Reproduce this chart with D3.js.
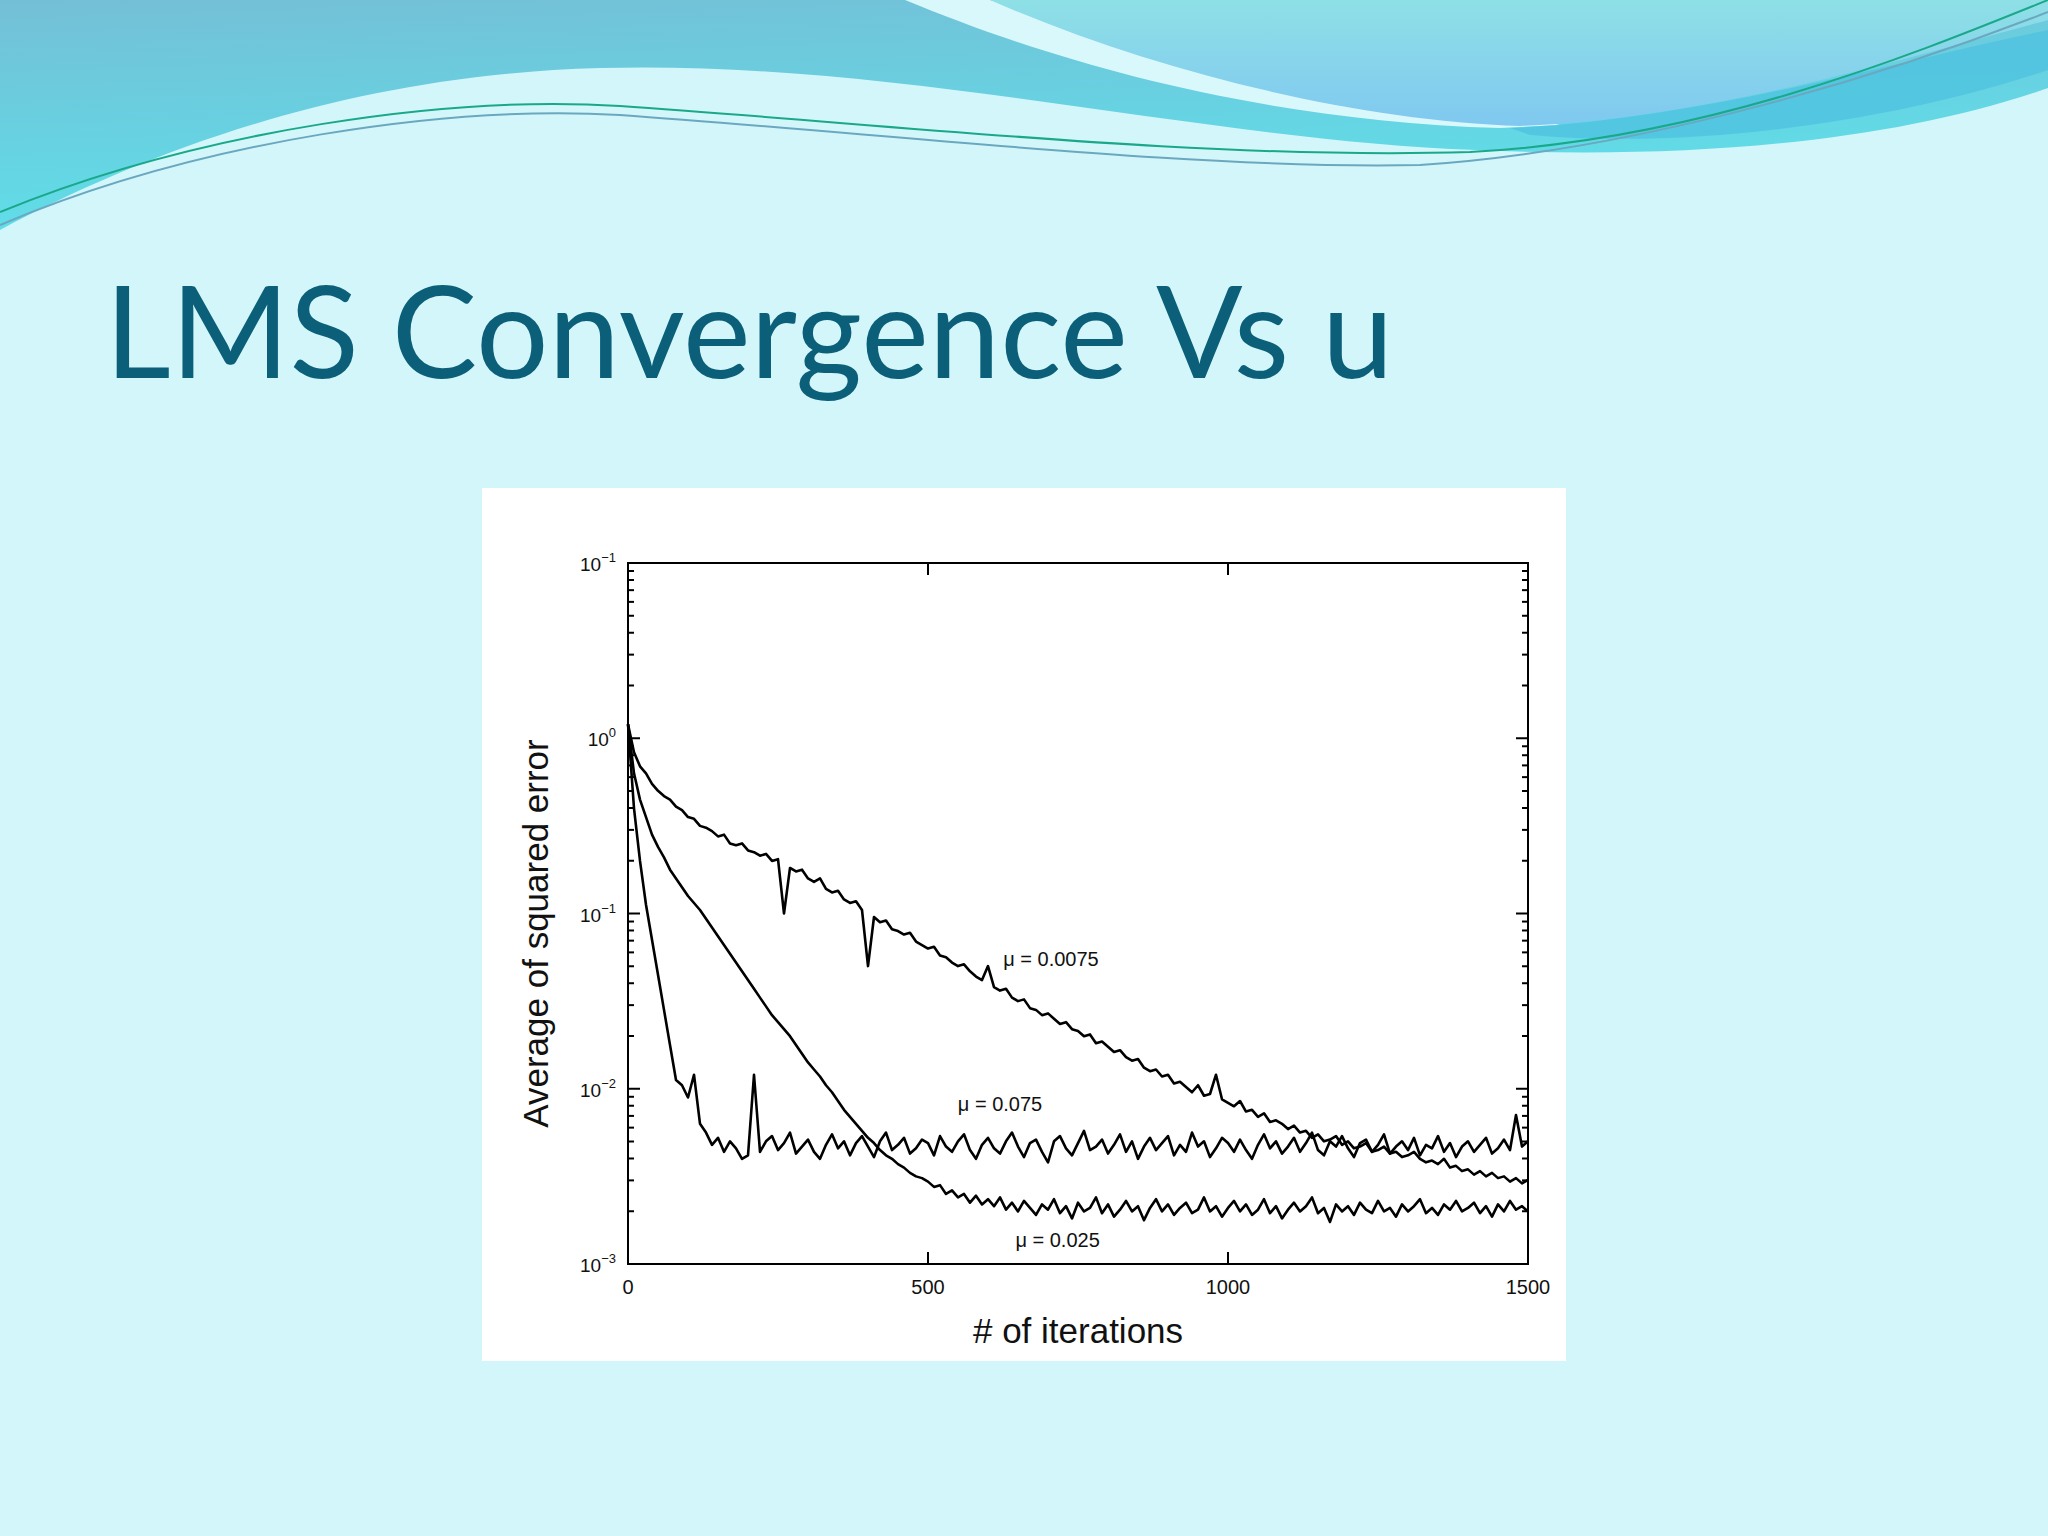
<!DOCTYPE html>
<html><head><meta charset="utf-8">
<script src="https://cdn.jsdelivr.net/npm/d3@7"></script>
<style>body{margin:0;background:#d3f6fa;}svg{display:block}</style>
</head><body>
<script>
const iterStep = 10;
const seriesNames = ["μ = 0.0075", "μ = 0.075", "μ = 0.025"];
const xTicks = [0, 500, 1000, 1500];
const yTickExps = [-3, -2, -1, 0, -1];   // printed exponents (as in source image, bottom to top)
const yTickVals = [0.001, 0.01, 0.1, 1, 10];
// log10 of average squared error, every 10 iterations
const logSlow = [0.08,-0.08,-0.16,-0.2,-0.26,-0.3,-0.33,-0.35,-0.39,-0.41,
-0.45,-0.46,-0.5,-0.51,-0.53,-0.56,-0.55,-0.6,-0.61,-0.6,
-0.64,-0.65,-0.67,-0.66,-0.7,-0.69,-1.0,-0.74,-0.76,-0.75,
-0.8,-0.82,-0.8,-0.86,-0.88,-0.87,-0.92,-0.94,-0.93,-0.98,
-1.3,-1.02,-1.05,-1.04,-1.09,-1.1,-1.12,-1.11,-1.16,-1.18,
-1.2,-1.19,-1.24,-1.25,-1.28,-1.3,-1.29,-1.33,-1.36,-1.38,
-1.3,-1.42,-1.44,-1.43,-1.48,-1.5,-1.49,-1.54,-1.55,-1.58,
-1.57,-1.6,-1.63,-1.62,-1.66,-1.67,-1.7,-1.69,-1.74,-1.73,
-1.76,-1.79,-1.78,-1.82,-1.84,-1.83,-1.88,-1.9,-1.89,-1.93,
-1.92,-1.97,-1.96,-1.99,-2.02,-1.98,-2.04,-2.03,-1.92,-2.06,
-2.08,-2.1,-2.07,-2.13,-2.12,-2.16,-2.14,-2.19,-2.18,-2.2,
-2.23,-2.21,-2.25,-2.24,-2.28,-2.26,-2.3,-2.29,-2.27,-2.32,
-2.3,-2.34,-2.33,-2.31,-2.36,-2.35,-2.33,-2.37,-2.36,-2.39,
-2.38,-2.36,-2.4,-2.42,-2.41,-2.43,-2.4,-2.45,-2.44,-2.47,
-2.46,-2.49,-2.47,-2.5,-2.48,-2.51,-2.5,-2.53,-2.51,-2.54,
-2.52];
const logFast = [0.08,-0.4,-0.7,-0.95,-1.15,-1.35,-1.55,-1.75,-1.95,-1.98,
-2.05,-1.92,-2.2,-2.25,-2.32,-2.28,-2.36,-2.3,-2.34,-2.4,
-2.38,-1.92,-2.36,-2.3,-2.27,-2.35,-2.31,-2.25,-2.37,-2.33,
-2.29,-2.36,-2.4,-2.32,-2.26,-2.34,-2.3,-2.38,-2.31,-2.27,
-2.33,-2.39,-2.3,-2.25,-2.35,-2.32,-2.28,-2.37,-2.34,-2.29,
-2.31,-2.38,-2.27,-2.33,-2.36,-2.3,-2.26,-2.35,-2.4,-2.32,
-2.28,-2.34,-2.37,-2.3,-2.25,-2.33,-2.39,-2.31,-2.29,-2.36,
-2.42,-2.3,-2.27,-2.34,-2.38,-2.31,-2.24,-2.35,-2.33,-2.29,
-2.37,-2.32,-2.26,-2.36,-2.3,-2.4,-2.33,-2.28,-2.35,-2.31,
-2.27,-2.38,-2.32,-2.36,-2.25,-2.33,-2.3,-2.39,-2.34,-2.28,
-2.31,-2.36,-2.29,-2.35,-2.4,-2.32,-2.26,-2.34,-2.3,-2.37,
-2.33,-2.28,-2.36,-2.31,-2.25,-2.35,-2.38,-2.3,-2.33,-2.27,
-2.34,-2.39,-2.31,-2.29,-2.36,-2.32,-2.26,-2.37,-2.33,-2.3,
-2.35,-2.28,-2.38,-2.32,-2.34,-2.27,-2.36,-2.31,-2.39,-2.33,
-2.3,-2.36,-2.32,-2.28,-2.37,-2.34,-2.29,-2.35,-2.15,-2.33,
-2.3];
const logMid = [0.08,-0.2,-0.35,-0.45,-0.55,-0.62,-0.68,-0.75,-0.8,-0.85,
-0.9,-0.94,-0.98,-1.03,-1.08,-1.13,-1.18,-1.23,-1.28,-1.33,
-1.38,-1.43,-1.48,-1.53,-1.58,-1.62,-1.66,-1.7,-1.75,-1.8,
-1.85,-1.89,-1.93,-1.98,-2.02,-2.07,-2.12,-2.16,-2.2,-2.24,
-2.28,-2.31,-2.35,-2.38,-2.4,-2.43,-2.45,-2.48,-2.5,-2.51,
-2.53,-2.56,-2.55,-2.6,-2.58,-2.62,-2.6,-2.65,-2.61,-2.66,
-2.63,-2.67,-2.62,-2.69,-2.65,-2.7,-2.64,-2.68,-2.72,-2.66,
-2.69,-2.63,-2.71,-2.67,-2.74,-2.65,-2.7,-2.68,-2.62,-2.71,
-2.66,-2.73,-2.69,-2.64,-2.7,-2.67,-2.75,-2.68,-2.63,-2.7,
-2.66,-2.72,-2.68,-2.65,-2.71,-2.69,-2.62,-2.7,-2.67,-2.73,
-2.68,-2.64,-2.7,-2.66,-2.72,-2.69,-2.63,-2.71,-2.67,-2.74,
-2.69,-2.65,-2.7,-2.67,-2.62,-2.71,-2.68,-2.76,-2.66,-2.7,
-2.67,-2.72,-2.65,-2.69,-2.71,-2.64,-2.7,-2.68,-2.73,-2.66,
-2.7,-2.67,-2.63,-2.71,-2.68,-2.72,-2.66,-2.69,-2.64,-2.7,
-2.68,-2.65,-2.71,-2.67,-2.73,-2.66,-2.7,-2.64,-2.69,-2.67,
-2.7];
const labelPos = [[705, 0.05], [620, 0.0075], [716, 0.00125]];

const W = 2048, H = 1536;
const svg = d3.select("body").append("svg").attr("width", W).attr("height", H);
const defs = svg.append("defs");
const g1 = defs.append("linearGradient").attr("id","gTop").attr("x1",0).attr("y1",0).attr("x2",0.3).attr("y2",1);
g1.append("stop").attr("offset",0).attr("stop-color","#74bfd6");
g1.append("stop").attr("offset",1).attr("stop-color","#5ee0ea");
const g2 = defs.append("linearGradient").attr("id","gR").attr("x1",0).attr("y1",0).attr("x2",0).attr("y2",1);
g2.append("stop").attr("offset",0).attr("stop-color","#8ee0e6");
g2.append("stop").attr("offset",1).attr("stop-color","#80c8f0");

svg.append("rect").attr("width",W).attr("height",H).attr("fill","#d3f6fa");
svg.append("path").attr("fill","url(#gTop)")
  .attr("d","M0,0 L2048,0 L2048,88 C1900,140 1700,160 1476,150 C1200,140 900,60 600,68 C350,75 150,150 0,230 Z");
svg.append("path").attr("fill","#d9f8fb")
  .attr("d","M905,0 C1050,60 1250,120 1500,128 L1560,125 C1500,110 1200,60 990,0 Z");
svg.append("path").attr("fill","url(#gR)")
  .attr("d","M990,0 C1150,70 1350,120 1520,126 C1700,120 1900,60 2048,20 L2048,0 Z");
svg.append("path").attr("fill","#4cc0e0").attr("opacity",0.7)
  .attr("d","M1510,128 C1700,120 1900,60 2048,30 L2048,70 C1900,120 1700,150 1530,135 Z");
svg.append("path").attr("fill","none").attr("stroke","#1aa88a").attr("stroke-width",2)
  .attr("d","M0,212 C200,130 450,95 620,106 C900,125 1200,160 1470,152 C1700,140 1900,60 2048,0");
svg.append("path").attr("fill","none").attr("stroke","#6aa8c0").attr("stroke-width",2)
  .attr("d","M0,225 C200,140 450,105 620,115 C900,135 1200,170 1420,165 C1650,150 1900,70 2048,12");

svg.append("text").attr("x",105).attr("y",378).attr("font-family","Lato, 'Open Sans', sans-serif")
  .attr("font-size",128).attr("fill","#0b5f79").text("LMS Convergence Vs u");

svg.append("rect").attr("x",482).attr("y",488).attr("width",1084).attr("height",873).attr("fill","#ffffff");

const L = 628, R = 1528, T = 563, B = 1264;
const x = d3.scaleLinear().domain([0,1500]).range([L,R]);
const y = d3.scaleLog().domain([0.001,10]).range([B,T]);
const font = "Liberation Sans, Arial, sans-serif";

const ax = svg.append("g").attr("stroke","#000").attr("stroke-width",2);
ax.append("rect").attr("x",L).attr("y",T).attr("width",R-L).attr("height",B-T).attr("fill","none");
const minor = [];
for (let e=-3; e<1; e++) for (let k=1;k<10;k++) minor.push(k*Math.pow(10,e));
minor.push(10);
minor.forEach(v=>{
  const len = (Math.abs(Math.log10(v)%1)<1e-9)?12:6;
  ax.append("line").attr("x1",L).attr("x2",L+len).attr("y1",y(v)).attr("y2",y(v));
  ax.append("line").attr("x1",R).attr("x2",R-len).attr("y1",y(v)).attr("y2",y(v));
});
xTicks.forEach(v=>{
  ax.append("line").attr("x1",x(v)).attr("x2",x(v)).attr("y1",B).attr("y2",B-12);
  ax.append("line").attr("x1",x(v)).attr("x2",x(v)).attr("y1",T).attr("y2",T+12);
});
yTickVals.forEach((v,i)=>{
  const t = svg.append("text").attr("x",L-12).attr("y",y(v)+8).attr("text-anchor","end")
    .attr("font-family",font).attr("font-size",19).attr("fill","#111");
  t.append("tspan").text("10");
  t.append("tspan").attr("dy",-9).attr("font-size",13).text(yTickExps[i] === 0 ? "0" : "−" + Math.abs(yTickExps[i]));
});
xTicks.forEach(v=>{
  svg.append("text").attr("x",x(v)).attr("y",B+30).attr("text-anchor","middle")
    .attr("font-family",font).attr("font-size",20).attr("fill","#111").text(v);
});
svg.append("text").attr("x",(L+R)/2).attr("y",1343).attr("text-anchor","middle")
  .attr("font-family",font).attr("font-size",35).attr("fill","#111").text("# of iterations");
svg.append("text").attr("transform",`translate(548,${(T+B)/2+20}) rotate(-90)`).attr("text-anchor","middle")
  .attr("font-family",font).attr("font-size",35).attr("fill","#111").text("Average of squared error");

const line = d3.line().x((d,i)=>x(i*iterStep)).y(d=>y(Math.pow(10,d)));
[logSlow, logFast, logMid].forEach(arr=>{
  svg.append("path").datum(arr).attr("d",line).attr("fill","none")
    .attr("stroke","#000").attr("stroke-width",2.6).attr("stroke-linejoin","round");
});
seriesNames.forEach((n,i)=>{
  svg.append("text").attr("x",x(labelPos[i][0])).attr("y",y(labelPos[i][1])).attr("text-anchor","middle")
    .attr("font-family",font).attr("font-size",20).attr("fill","#111").text(n);
});
</script>
</body></html>
